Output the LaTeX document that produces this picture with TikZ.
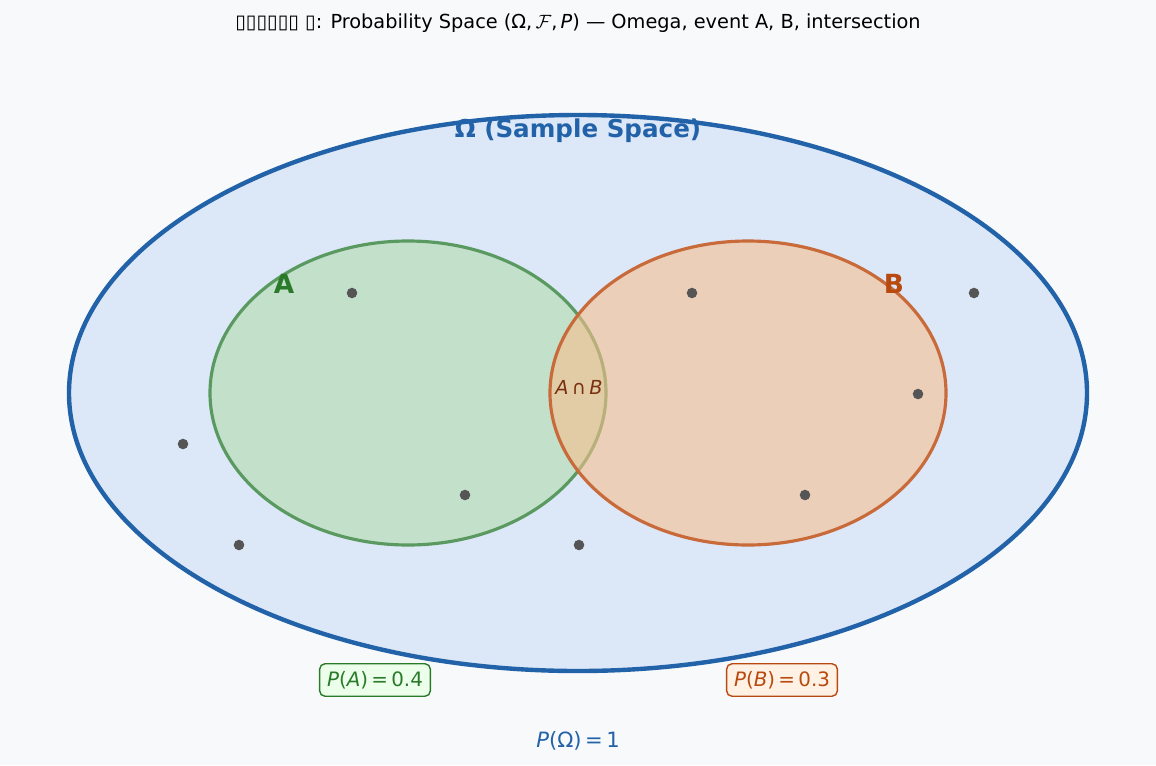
\documentclass[tikz,border=0pt]{standalone}
\usepackage{fontspec}
\setmainfont{DejaVu Sans}
\usetikzlibrary{positioning}

\definecolor{bgcol}{HTML}{F8F9FB}
\definecolor{omegafill}{HTML}{DCE7F7}
\definecolor{omegaline}{HTML}{2262A8}
\definecolor{afill}{HTML}{C3E0CB}
\definecolor{aline}{HTML}{5A9A60}
\definecolor{atext}{HTML}{2A7A2A}
\definecolor{bfill}{HTML}{F8BF8E}
\definecolor{bline}{HTML}{C96A3A}
\definecolor{btext}{HTML}{B84A10}
\definecolor{captext}{HTML}{7A3010}
\definecolor{dotcol}{HTML}{555555}

\tikzset{
  sample/.style={draw=omegaline, fill=omegafill, line width=2.5pt},
  eventA/.style={draw=aline, fill=afill, line width=1.8pt},
  eventB/.style={draw=bline, fill=bfill, fill opacity=0.6, line width=1.8pt},
  outcome/.style={circle, fill=dotcol, inner sep=0pt, minimum size=6pt},
  probbox/.style={rounded corners=3pt, line width=0.8pt, inner sep=4.2pt, font=\fontsize{11.3}{13}\selectfont},
}

\newcommand{\itx}[1]{\textit{#1}}

\begin{document}
\begin{tikzpicture}[x=0.02cm, y=-0.02cm]

% background
\fill[bgcol] (0,0) rectangle (1156,765);
\useasboundingbox (0,0) rectangle (1156,765);

% title
\node (title) at (578,23) {\fontsize{11}{13}\selectfont ▯▯▯▯▯▯ ▯: Probability Space (Ω,\,$\mathcal{F}$,\,\itx{P}) — Omega, event A, B, intersection};

% sample space and events
\draw[sample] (578,393) ellipse [x radius=509, y radius=278];
\draw[eventA] (408,393) ellipse [x radius=198, y radius=152];
\draw[eventB] (748,393) ellipse [x radius=198, y radius=152];

% outcomes
\foreach \px/\py [count=\i] in {352/293, 692/293, 974/293, 918/394, 183/444, 465/495, 805/495, 239/545, 579/545}
  \node[outcome] (w\i) at (\px,\py) {};

% labels
\node[text=omegaline, font=\fontsize{14}{16}\selectfont\bfseries] (omegalab) at (578,131) {Ω (Sample Space)};
\node[text=atext, font=\fontsize{15}{17}\selectfont\bfseries] (alab) at (284,284) {A};
\node[text=btext, font=\fontsize{15}{17}\selectfont\bfseries] (blab) at (894,284) {B};
\node[text=captext, font=\fontsize{11}{13}\selectfont] (cap) at (579,387) {\itx{A}\,∩\,\itx{B}};

% probabilities
\node[probbox, draw=atext, fill=green!8, text=atext] (pa) at (375,680) {\itx{P}(\itx{A})\,=\,0.4};
\node[probbox, draw=btext, fill=orange!10, text=btext] (pb) at (782,680) {\itx{P}(\itx{B})\,=\,0.3};
\node[text=omegaline, font=\fontsize{12}{14}\selectfont] (pomega) at (578,741) {\itx{P}(Ω)\,=\,1};

\end{tikzpicture}
\end{document}
